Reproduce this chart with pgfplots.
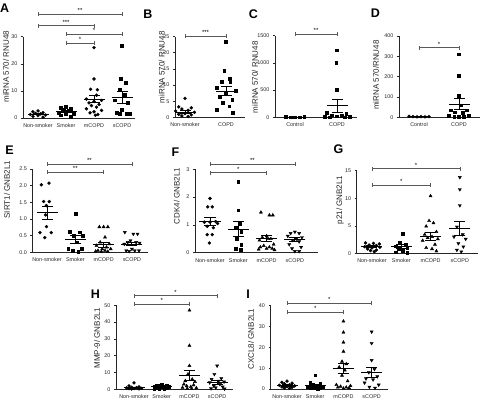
\documentclass[border=0pt]{standalone}
\usepackage{fontspec}
\setmainfont{Liberation Sans}
\usepackage{pgfplots}
\pgfplotsset{compat=1.18}
\definecolor{axcol}{gray}{0.15}
\definecolor{brkcol}{gray}{0.35}
\pgfplotsset{
 gp/.style={scale only axis, axis lines*=left, clip=false, anchor=south west,
   tick align=outside, major tick length=2pt,
   xtick style={draw=none}, ytick style={axcol, line width=0.5pt},
   axis line style={axcol, line width=0.6pt},
   ticklabel style={font=\fontsize{5.4}{6}\selectfont, text=axcol},
   /pgf/number format/assume math mode=true, /pgf/number format/1000 sep={},
   ymin=0, ylabel style={font=\fontsize{8}{9}\selectfont, anchor=center, text=axcol},
   xtick={1,2,3,4}, xticklabels={Non-smoker,Smoker,mCOPD,sCOPD}},
 pt/.style={only marks, black, mark size=1.5pt},
 pc/.style={pt, mark=*},
 ps/.style={pt, mark=square*, mark size=1.4pt},
 ptr/.style={pt, mark=triangle*, mark size=1.8pt},
 pti/.style={pt, mark=triangle*, mark size=1.8pt, mark options={rotate=180, fill=black}},
 msl/.style={black, line width=0.85pt, mark options={line width=0.85pt}},
}
\newcommand\ms[3]{%
 \pgfmathsetmacro\msa{#2-#3}\pgfmathsetmacro\msb{#2+#3}%
 \addplot[msl] coordinates {(#1,\msa) (#1,\msb)};
 \addplot[msl, only marks, mark=-, mark size=5.5pt] coordinates {(#1,\msa) (#1,\msb)};
 \addplot[msl, only marks, mark=-, mark size=10.5pt] coordinates {(#1,#2)};
}
\newcommand\brk[4]{%
 \draw[brkcol, line width=0.6pt] (axis cs:#1,#3) -- (axis cs:#2,#3);
 \draw[brkcol, line width=0.6pt] ([yshift=-2pt]axis cs:#1,#3) -- ([yshift=2pt]axis cs:#1,#3);
 \draw[brkcol, line width=0.6pt] ([yshift=-2pt]axis cs:#2,#3) -- ([yshift=2pt]axis cs:#2,#3);
 \node[font=\fontsize{6}{6}\selectfont, anchor=base, inner sep=0pt, yshift=1.5pt] at (axis cs:{(#1+#2)/2},#3) {#4};
}
\begin{document}
\begin{tikzpicture}
\path[use as bounding box] (0,0) rectangle (481pt,-400pt);
\tikzset{lett/.style={font=\bfseries\fontsize{12.5}{13}\selectfont, inner sep=0pt}}
\node[lett] at (4.7pt,-8pt) {A};
\node[lett] at (148pt,-14pt) {B};
\node[lett] at (253.5pt,-14pt) {C};
\node[lett] at (375.5pt,-13pt) {D};
\node[lett] at (9.5pt,-150pt) {E};
\node[lett] at (175.5pt,-152pt) {F};
\node[lett] at (338.5pt,-149pt) {G};
\node[lett] at (95.5pt,-294pt) {H};
\node[lett] at (248pt,-294pt) {I};

% ---------------- A
\begin{axis}[gp, at={(23pt,-118pt)}, width=112pt, height=81.3pt, xmin=0.464, xmax=4.464,
  ymax=30, ytick={0,10,20,30}, ylabel={miRNA 570/ RNU48},
  ylabel style={at={(axis description cs:-0.152,0.63)}}]
\addplot[pc] table[x expr=1+\thisrow{o}, y=v, row sep=\\] {o v\\ 0 2.6\\ -0.18 2.3\\ 0.18 2.0\\ -0.09 1.7\\ 0.09 1.5\\ -0.27 1.3\\ 0.27 1.1\\ 0 0.9\\ -0.18 0.6\\ 0.18 0.3\\};
\addplot[ps] table[x expr=2+\thisrow{o}, y=v, row sep=\\] {o v\\ 0 4.2\\ -0.18 3.9\\ 0.18 3.5\\ -0.09 3.0\\ 0.09 2.6\\ -0.27 2.1\\ 0.27 1.7\\ 0 1.4\\ -0.18 1.0\\ 0.18 0.6\\};
\addplot[pc] table[x expr=3+\thisrow{o}, y=v, row sep=\\] {o v\\ 0 26.0\\ 0 14.4\\ -0.12 10.6\\ 0.12 10.4\\ 0.09 8.4\\ -0.27 7.0\\ 0.27 6.5\\ 0 6.1\\ -0.18 5.6\\ 0.18 5.0\\ -0.09 4.6\\ 0.09 4.0\\ -0.27 3.4\\ 0.27 2.8\\ 0 2.3\\ -0.14 1.9\\ 0.14 1.3\\ 0.05 1.0\\};
\addplot[ps] table[x expr=4+\thisrow{o}, y=v, row sep=\\] {o v\\ 0 26.7\\ -0.05 14.4\\ 0.12 13.1\\ -0.09 10.5\\ 0.09 8.5\\ -0.27 6.6\\ 0.2 5.6\\ 0 3.0\\ -0.18 2.0\\ 0.18 1.7\\ -0.09 1.5\\ 0.27 1.5\\};
\ms{1}{1.43}{0.23}
\ms{2}{2.4}{0.35}
\ms{3}{7.0}{1.4}
\ms{4}{7.6}{2.2}
\brk{1}{4}{38.4}{**}
\brk{1}{3}{34.1}{***}
\brk{2}{4}{31.0}{*}
\brk{2}{3}{27.7}{*}
\end{axis}

% ---------------- B
\begin{axis}[gp, at={(175pt,-117.5pt)}, width=70pt, height=81pt, xmin=0.756, xmax=2.463,
  ymax=25, ytick={0,5,10,15,20,25}, xtick={1,2}, xticklabels={Non-smoker,COPD},
  ylabel={miRNA 570/ RNU48}, ylabel style={at={(axis description cs:-0.19,0.62)}}]
\addplot[pc] table[x expr=1+0.85*\thisrow{o}, y=v, row sep=\\] {o v\\ 0 5.9\\ -0.18 3.3\\ 0.18 3.0\\ -0.09 2.6\\ 0.09 2.2\\ -0.27 2.0\\ 0.27 1.6\\ 0 1.2\\ -0.18 1.0\\ 0.18 0.8\\ -0.09 0.5\\ 0.09 0.3\\};
\addplot[ps] table[x expr=2+0.85*\thisrow{o}, y=v, row sep=\\] {o v\\ 0 23.3\\ -0.05 14.4\\ 0.1 12.1\\ -0.12 11.0\\ 0.12 11.0\\ -0.27 9.3\\ 0.27 8.2\\ 0 7.5\\ -0.18 6.5\\ 0.18 5.5\\ -0.09 4.5\\ 0.09 3.5\\ -0.27 2.5\\ 0.2 1.5\\};
\ms{1}{1.7}{0.45}
\ms{2}{8.2}{1.4}
\brk{1}{2}{25.2}{***}
\end{axis}

% ---------------- C
\begin{axis}[gp, at={(275pt,-117.3pt)}, width=82pt, height=81.8pt, xmin=0.524, xmax=2.476,
  ymax=1500, ytick={0,500,1000,1500}, xtick={1,2}, xticklabels={Control,COPD},
  ylabel={miRNA 570/ RNU48}, ylabel style={at={(axis description cs:-0.244,0.49)}}]
\addplot[ps] table[x expr=1+\thisrow{o}, y=v, row sep=\\] {o v\\ -0.22 4\\ -0.11 3\\ 0 2\\ 0.11 3\\ 0.22 5\\};
\addplot[ps] table[x expr=2+\thisrow{o}, y=v, row sep=\\] {o v\\ 0 1230\\ -0.02 1000\\ 0 510\\ -0.25 90\\ 0.22 70\\ -0.12 40\\ 0.12 30\\ 0 20\\ -0.3 5\\ 0.3 5\\ -0.18 3\\ 0.18 3\\};
\ms{1}{3}{0.5}
\ms{2}{215}{120}
\brk{1}{2}{1522}{**}
\end{axis}

% ---------------- D
\begin{axis}[gp, at={(399pt,-117.3pt)}, width=81pt, height=81.3pt, xmin=0.5, xmax=2.525,
  ymax=400, ytick={0,100,200,300,400}, xtick={1,2}, xticklabels={Control,COPD},
  ylabel={miRNA 570/RNU48}, ylabel style={at={(axis description cs:-0.284,0.52)}}]
\addplot[pc] table[x expr=1+\thisrow{o}, y=v, row sep=\\] {o v\\ -0.25 5\\ -0.15 3\\ -0.05 2\\ 0.05 3\\ 0.15 2\\ 0.25 3\\};
\addplot[ps] table[x expr=2+\thisrow{o}, y=v, row sep=\\] {o v\\ 0 310\\ 0 205\\ 0 105\\ 0.05 60\\ -0.2 35\\ 0.2 35\\ -0.1 25\\ 0.1 22\\ -0.25 8\\ 0.25 6\\ 0 4\\ -0.12 3\\ 0.12 3\\};
\ms{1}{3}{0.6}
\ms{2}{65}{28}
\brk{1}{2}{342}{*}
\end{axis}

% ---------------- E
\begin{axis}[gp, at={(32.3pt,-252.3pt)}, width=115.6pt, height=83.5pt, xmin=0.48, xmax=4.565,
  ymax=2.5, ytick={0,0.5,1,1.5,2,2.5},
  yticklabel style={/pgf/number format/.cd, fixed, fixed zerofill, precision=1},
  ylabel={SIRT1/ GNB2L1}, ylabel style={at={(axis description cs:-0.219,0.75)}}]
\addplot[pc] table[x expr=1+\thisrow{o}, y=v, row sep=\\] {o v\\ 0.07 2.07\\ -0.2 2.02\\ -0.12 1.52\\ 0.08 1.52\\ -0.02 1.40\\ -0.05 1.12\\ -0.02 0.77\\ -0.25 0.59\\ 0.15 0.59\\ -0.08 0.44\\};
\addplot[ps] table[x expr=2+\thisrow{o}, y=v, row sep=\\] {o v\\ 0 1.16\\ -0.2 0.62\\ 0.15 0.6\\ -0.05 0.5\\ 0.25 0.5\\ 0.05 0.3\\ -0.25 0.12\\ 0.22 0.1\\ -0.1 0.05\\ 0.1 0.02\\};
\addplot[ptr] table[x expr=3+\thisrow{o}, y=v, row sep=\\] {o v\\ -0.15 0.76\\ 0 0.76\\ 0.15 0.76\\ 0.05 0.45\\ -0.12 0.3\\ 0.2 0.25\\ -0.25 0.2\\ 0.1 0.15\\ -0.05 0.1\\ 0.25 0.1\\ -0.2 0.05\\ 0.05 0.05\\ -0.28 0.03\\ 0.15 0.02\\ -0.08 0.02\\};
\addplot[pti] table[x expr=4+\thisrow{o}, y=v, row sep=\\] {o v\\ -0.25 0.6\\ 0.05 0.55\\ 0.2 0.55\\ -0.05 0.35\\ 0.15 0.3\\ -0.15 0.3\\ 0.27 0.28\\ -0.27 0.25\\ 0 0.1\\ -0.2 0.05\\ 0.1 0.05\\ 0.25 0.05\\ -0.1 0.03\\};
\ms{1}{1.18}{0.2}
\ms{2}{0.38}{0.12}
\ms{3}{0.23}{0.07}
\ms{4}{0.25}{0.05}
\brk{1}{4}{2.63}{**}
\brk{1}{3}{2.40}{**}
\end{axis}

% ---------------- F
\begin{axis}[gp, at={(195pt,-252.7pt)}, width=122.8pt, height=83.4pt, xmin=0.47, xmax=4.81,
  ymax=3, ytick={0,1,2,3},
  ylabel={CDK4/ GNB2L1}, ylabel style={at={(axis description cs:-0.149,0.68)}}]
\addplot[pc] table[x expr=1+\thisrow{o}, y=v, row sep=\\] {o v\\ 0 1.95\\ -0.08 1.65\\ 0.08 1.65\\ 0.2 1.12\\ -0.2 1.1\\ 0 1.1\\ 0.27 1.05\\ -0.1 0.95\\ 0.12 0.9\\ -0.1 0.65\\ 0.08 0.65\\ -0.02 0.35\\};
\addplot[ps] table[x expr=2+\thisrow{o}, y=v, row sep=\\] {o v\\ 0 2.55\\ 0 1.53\\ 0.05 1.05\\ -0.1 0.9\\ 0.1 0.75\\ -0.05 0.5\\ 0.1 0.3\\ -0.1 0.15\\ 0.08 0.1\\};
\addplot[ptr] table[x expr=3+\thisrow{o}, y=v, row sep=\\] {o v\\ -0.2 1.45\\ 0.1 1.35\\ 0.22 1.35\\ 0 0.6\\ -0.15 0.55\\ 0.15 0.5\\ 0.05 0.5\\ -0.25 0.45\\ 0.25 0.3\\ -0.1 0.25\\ 0.1 0.2\\ -0.22 0.2\\ 0.2 0.15\\ 0 0.15\\ -0.28 0.12\\ 0.28 0.1\\};
\addplot[pti] table[x expr=4+\thisrow{o}, y=v, row sep=\\] {o v\\ 0 0.75\\ -0.15 0.7\\ 0.15 0.7\\ -0.25 0.6\\ 0.25 0.55\\ 0.05 0.5\\ -0.08 0.45\\ 0.15 0.4\\ -0.2 0.3\\ 0.22 0.2\\ -0.1 0.15\\ 0 0.05\\ 0.15 0.05\\};
\ms{1}{1.13}{0.14}
\ms{2}{0.85}{0.27}
\ms{3}{0.52}{0.11}
\ms{4}{0.47}{0.07}
\brk{1}{4}{3.19}{**}
\brk{1}{3}{2.88}{*}
\end{axis}

% ---------------- G
\begin{axis}[gp, at={(356.7pt,-253.3pt)}, width=121pt, height=82.6pt, xmin=0.478, xmax=4.61,
  ymax=15, ytick={0,5,10,15},
  ylabel={p21/ GNB2L1}, ylabel style={at={(axis description cs:-0.138,0.645)}}]
\addplot[pc] table[x expr=1+\thisrow{o}, y=v, row sep=\\] {o v\\ -0.22 1.9\\ 0.05 1.8\\ 0.25 1.7\\ -0.1 1.5\\ 0.15 1.4\\ -0.25 1.2\\ 0.27 1.1\\ 0 1.0\\ -0.15 0.8\\ 0.15 0.6\\ -0.05 0.5\\ 0.08 0.3\\};
\addplot[ps] table[x expr=2+\thisrow{o}, y=v, row sep=\\] {o v\\ 0.05 3.6\\ -0.05 2.0\\ 0.15 1.5\\ -0.2 1.3\\ 0.2 1.0\\ -0.1 0.8\\ 0.05 0.5\\ -0.2 0.2\\ 0.2 0.1\\};
\addplot[ptr] table[x expr=3+\thisrow{o}, y=v, row sep=\\] {o v\\ 0 10.4\\ -0.05 5.9\\ 0.1 5.5\\ -0.15 4.9\\ 0.2 3.9\\ -0.2 3.4\\ 0.05 3.0\\ -0.1 2.8\\ 0.25 2.6\\ -0.27 2.3\\ 0.15 1.6\\ -0.15 1.0\\ 0.05 0.8\\ 0.2 0.4\\};
\addplot[pti] table[x expr=4+\thisrow{o}, y=v, row sep=\\] {o v\\ 0 13.8\\ 0 11.6\\ 0 8.7\\ -0.1 4.8\\ 0.1 3.4\\ -0.2 3.0\\ 0.2 2.6\\ -0.05 1.8\\ 0.12 1.2\\ -0.1 0.6\\ 0.05 0.3\\};
\ms{1}{1.2}{0.15}
\ms{2}{1.25}{0.35}
\ms{3}{3.1}{0.7}
\ms{4}{4.5}{1.3}
\brk{1}{4}{15.4}{*}
\brk{1}{3}{12.4}{*}
\end{axis}

% ---------------- H
\begin{axis}[gp, at={(116pt,-389.3pt)}, width=117.2pt, height=84pt, xmin=0.35, xmax=4.58,
  ymax=50, ytick={0,10,20,30,40,50},
  ylabel={MMP-9/ GNB2L1}, ylabel style={at={(axis description cs:-0.162,0.61)}}]
\addplot[pc] table[x expr=1+\thisrow{o}, y=v, row sep=\\] {o v\\ 0 3.8\\ -0.18 2.0\\ 0.18 1.5\\ -0.09 1.2\\ 0.09 1.0\\ -0.27 0.8\\ 0.27 0.6\\ 0 0.5\\ -0.18 0.4\\ 0.18 0.3\\ -0.09 0.2\\};
\addplot[ps] table[x expr=2+\thisrow{o}, y=v, row sep=\\] {o v\\ 0 3.0\\ -0.18 2.5\\ 0.18 2.2\\ -0.09 2.0\\ 0.09 1.8\\ -0.27 1.5\\ 0.27 1.4\\ 0 1.2\\ -0.18 1.0\\ 0.18 0.8\\ -0.09 0.6\\ 0.09 0.5\\ -0.27 0.3\\};
\addplot[ptr] table[x expr=3+\thisrow{o}, y=v, row sep=\\] {o v\\ 0 47\\ 0 26\\ 0 14\\ -0.05 9\\ 0.1 6\\ -0.15 5\\ 0.2 4.5\\ -0.2 3\\ 0.15 2.5\\ -0.1 2\\ 0.05 1.5\\ -0.25 1\\ 0.25 0.8\\ -0.08 0.5\\ 0.08 0.3\\};
\addplot[pti] table[x expr=4+\thisrow{o}, y=v, row sep=\\] {o v\\ 0 14\\ -0.1 9\\ 0.15 6.5\\ -0.2 6\\ 0.05 5\\ 0.25 4.5\\ -0.27 4\\ 0.1 3\\ -0.12 2\\ 0.2 1.5\\ -0.05 1\\ -0.22 0.5\\ 0.27 0.3\\};
\ms{1}{1.1}{0.3}
\ms{2}{1.5}{0.25}
\ms{3}{8}{3}
\ms{4}{4.3}{1.2}
\brk{1}{4}{55.8}{*}
\brk{1}{3}{50.7}{*}
\end{axis}

% ---------------- I
\begin{axis}[gp, at={(270.5pt,-389pt)}, width=117.5pt, height=83.3pt, xmin=0.415, xmax=4.58,
  ymax=40, ytick={0,10,20,30,40},
  ylabel={CXCL8/ GNB2L1}, ylabel style={at={(axis description cs:-0.166,0.6)}}]
\addplot[pc] table[x expr=1+\thisrow{o}, y=v, row sep=\\] {o v\\ 0 3.8\\ -0.18 3.2\\ 0.18 2.8\\ -0.09 2.5\\ 0.09 2.0\\ -0.27 1.8\\ 0.27 1.5\\ 0 1.2\\ -0.18 1.0\\ 0.18 0.8\\ -0.09 0.5\\ 0.09 0.3\\};
\addplot[ps] table[x expr=2+\thisrow{o}, y=v, row sep=\\] {o v\\ 0 6.6\\ -0.18 3.0\\ 0.18 2.5\\ -0.09 2.0\\ 0.09 1.5\\ -0.27 1.2\\ 0.27 1.0\\ 0 0.8\\ -0.18 0.6\\ 0.18 0.5\\ -0.09 0.4\\ 0.09 0.3\\};
\addplot[ptr] table[x expr=3+\thisrow{o}, y=v, row sep=\\] {o v\\ 0 32.5\\ 0 27.2\\ 0 22.4\\ 0 18.0\\ -0.05 13.2\\ 0.1 12.0\\ -0.15 10.5\\ 0.05 9.0\\ -0.05 6.5\\ 0.15 3.8\\ -0.25 2.0\\ 0.25 1.5\\ -0.1 1.2\\ 0.1 0.8\\ -0.2 0.8\\ 0.2 0.5\\ 0 0.3\\};
\addplot[pti] table[x expr=4+\thisrow{o}, y=v, row sep=\\] {o v\\ 0 27.5\\ 0 22.0\\ 0 13.8\\ 0.1 9.5\\ -0.1 8.0\\ 0.2 6.0\\ -0.2 5.0\\ 0.05 4.5\\ -0.25 3.0\\ 0.25 2.0\\ -0.08 1.0\\ 0.12 0.5\\};
\ms{1}{1.7}{0.3}
\ms{2}{1.7}{0.5}
\ms{3}{10}{2.5}
\ms{4}{8}{2.6}
\brk{1}{4}{41.2}{*}
\brk{1}{3}{36.8}{*}
\end{axis}
\end{tikzpicture}
\end{document}
